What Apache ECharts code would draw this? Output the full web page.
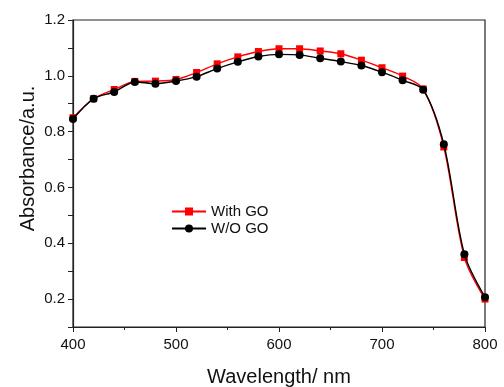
<!DOCTYPE html>
<html><head><meta charset="utf-8">
<script src="https://cdn.jsdelivr.net/npm/echarts@6/dist/echarts.min.js"></script>
<style>html,body{margin:0;padding:0;background:#fff}#c{width:504px;height:387px}</style>
</head><body><div id="c"></div>
<script>
const wavelengths = [400,420,440,460,480,500,520,540,560,580,600,620,640,660,680,700,720,740,760,780,800];
const withGO = [0.850,0.918,0.951,0.980,0.981,0.987,1.012,1.043,1.068,1.087,1.097,1.097,1.089,1.079,1.056,1.029,0.999,0.953,0.745,0.349,0.200];
const withoutGO = [0.845,0.918,0.942,0.978,0.972,0.981,0.997,1.026,1.050,1.069,1.077,1.075,1.063,1.051,1.037,1.013,0.984,0.950,0.755,0.361,0.207];
const xTicks = [400,500,600,700,800];
const yTicks = [0.2,0.4,0.6,0.8,1.0,1.2];

const font = '"Liberation Sans", Arial, sans-serif';
const chart = echarts.init(document.getElementById('c'), null, {renderer:'canvas'});
const axisCommon = {
  axisLine:{show:true,onZero:false,lineStyle:{color:'#222',width:1.2}},
  axisTick:{show:true,inside:false,length:5,lineStyle:{color:'#222',width:1}},
  minorTick:{show:true,splitNumber:2,length:3,lineStyle:{color:'#222',width:1}},
  splitLine:{show:false},
  axisLabel:{color:'#111',fontSize:15,fontFamily:font}
};
chart.setOption({
  animation:false,
  backgroundColor:'#fff',
  grid:{left:73,right:19,top:20,bottom:60,outerBoundsMode:'none',containLabel:false,show:true,borderColor:'#222',borderWidth:1.2,backgroundColor:'transparent'},
  legend:{
    left:166,top:199,orient:'vertical',itemGap:2,itemWidth:34,itemHeight:10,
    textStyle:{fontSize:15,fontFamily:font,color:'#111'},
    data:['With GO','W/O GO']
  },
  xAxis:Object.assign({},axisCommon,{
    type:'value',min:400,max:800,interval:100,
    name:'Wavelength/ nm',nameLocation:'middle',nameGap:40,nameMoveOverlap:false,
    nameTextStyle:{fontSize:20,fontFamily:font,color:'#111'},
    axisLabel:Object.assign({},axisCommon.axisLabel,{margin:10,formatter:v=>xTicks.includes(v)?String(v):''})
  }),
  yAxis:Object.assign({},axisCommon,{
    type:'value',min:0.1,max:1.2,interval:0.1,
    name:'Absorbance/a.u.',nameLocation:'middle',nameGap:35,nameMoveOverlap:false,
    nameTextStyle:{fontSize:20,fontFamily:font,color:'#111',padding:[0,0,0,30]},
    minorTick:{show:false},
    axisTick:{show:true,length:5,lineStyle:{color:'#222',width:1}},
    axisLabel:Object.assign({},axisCommon.axisLabel,{margin:8,
      formatter:v=>{const r=Math.round(v*10)/10;return yTicks.some(t=>Math.abs(t-r)<1e-6)&&Math.abs(v-r)<1e-6?r.toFixed(1):'';}})
  }),
  series:[
    {name:'With GO',type:'line',data:wavelengths.map((x,i)=>[x,withGO[i]]),smooth:0.3,
     symbol:'rect',symbolSize:7,itemStyle:{color:'#ff0000'},lineStyle:{color:'#ff0000',width:1.4},z:2},
    {name:'W/O GO',type:'line',data:wavelengths.map((x,i)=>[x,withoutGO[i]]),smooth:0.3,
     symbol:'circle',symbolSize:8,itemStyle:{color:'#000'},lineStyle:{color:'#000',width:1.4},z:3}
  ]
});
</script></body></html>
